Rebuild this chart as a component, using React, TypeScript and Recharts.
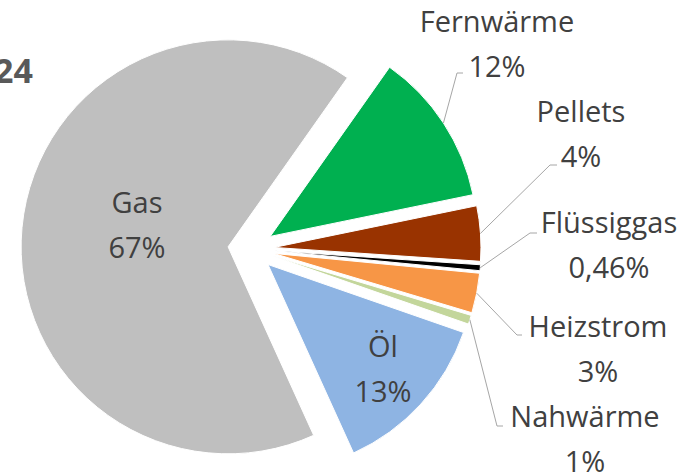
import React from 'react';
import { PieChart, Pie, Cell, Sector } from 'recharts';

// ---- data ----
const categories = ['Fernwärme', 'Pellets', 'Flüssiggas', 'Heizstrom', 'Nahwärme', 'Öl', 'Gas'];
const shares = [12.0, 4.3, 0.46, 3.1, 0.7, 12.9, 66.6];
const titleText = '24';

// ---- styles / layout (not data) ----
const colors = ['#00B050', '#993300', '#000000', '#F79646', '#C3D69B', '#8EB4E3', '#BFBFBF'];
const labelLayout = [
  { x: 497, y: 32, inside: false, ex: 457, ey: 73, hx: 463 },
  { x: 581, y: 122, inside: false, ex: 550, ey: 165, hx: 557 },
  { x: 609, y: 233, inside: false, ex: 530, ey: 233, hx: 537 },
  { x: 598, y: 337, inside: false, ex: 517, ey: 335, hx: 522 },
  { x: 585, y: 427, inside: false, ex: 497, ey: 426, hx: 503 },
  { x: 383, y: 357, inside: true, ex: 0, ey: 0, hx: 0 },
  { x: 137, y: 213, inside: true, ex: 0, ey: 0, hx: 0 },
];

const W = 698;
const H = 473;
const EXPLODE = 23;
const FONT = '"Open Sans", sans-serif';
const TEXT_COLOR = '#404040';
const LINE_GAP = 45;
const RAD = Math.PI / 180;

const data = categories.map((name, i) => ({ name, value: shares[i] }));

const fmtPct = (p: number) => {
  const v = p * 100;
  if (v < 0.5) return v.toFixed(2).replace('.', ',') + '%';
  return Math.round(v) + '%';
};

const renderSlice = (props: any) => {
  const { cx, cy, innerRadius, outerRadius, startAngle, endAngle, index, percent, name } = props;
  const mid = (startAngle + endAngle) / 2;
  const ux = Math.cos(-mid * RAD);
  const uy = Math.sin(-mid * RAD);
  const ox = cx + EXPLODE * ux;
  const oy = cy + EXPLODE * uy;
  const lay = labelLayout[index];
  const sx = ox + outerRadius * ux;
  const sy = oy + outerRadius * uy;
  return (
    <g>
      <Sector
        cx={ox}
        cy={oy}
        innerRadius={innerRadius}
        outerRadius={outerRadius}
        startAngle={startAngle}
        endAngle={endAngle}
        fill={colors[index]}
        stroke="#ffffff"
        strokeWidth={1}
      />
      {!lay.inside && (
        <polyline
          points={`${sx},${sy} ${lay.ex},${lay.ey} ${lay.hx},${lay.ey}`}
          fill="none"
          stroke="#A6A6A6"
          strokeWidth={1}
        />
      )}
      <text
        x={lay.x}
        y={lay.y}
        textAnchor="middle"
        fontFamily={FONT}
        fontSize={29}
        fill={TEXT_COLOR}
      >
        {categories[index] ?? name}
      </text>
      <text
        x={lay.x}
        y={lay.y + LINE_GAP}
        textAnchor="middle"
        fontFamily={FONT}
        fontSize={29}
        fill={TEXT_COLOR}
      >
        {fmtPct(percent)}
      </text>
    </g>
  );
};

export default function App() {
  return (
    <div style={{ position: 'fixed', left: 0, top: 0, width: W, height: H, background: '#ffffff' }}>
      <PieChart width={W} height={H} margin={{ top: 0, right: 0, bottom: 0, left: 0 }}>
        <Pie
          data={data}
          dataKey="value"
          nameKey="name"
          cx={251}
          cy={249}
          innerRadius={0}
          outerRadius={207}
          startAngle={54.8}
          endAngle={-305.2}
          stroke="none"
          label={renderSlice}
          labelLine={false}
          isAnimationActive={false}
        >
          {data.map((d, i) => (
            <Cell key={d.name} fill="none" stroke="none" />
          ))}
        </Pie>
      </PieChart>
      <svg
        width={W}
        height={H}
        style={{ position: 'absolute', left: 0, top: 0, pointerEvents: 'none' }}
      >
        <text x={33} y={83} textAnchor="end" fontFamily={FONT} fontWeight={700} fontSize={34} fill="#595959">
          {titleText}
        </text>
      </svg>
    </div>
  );
}
